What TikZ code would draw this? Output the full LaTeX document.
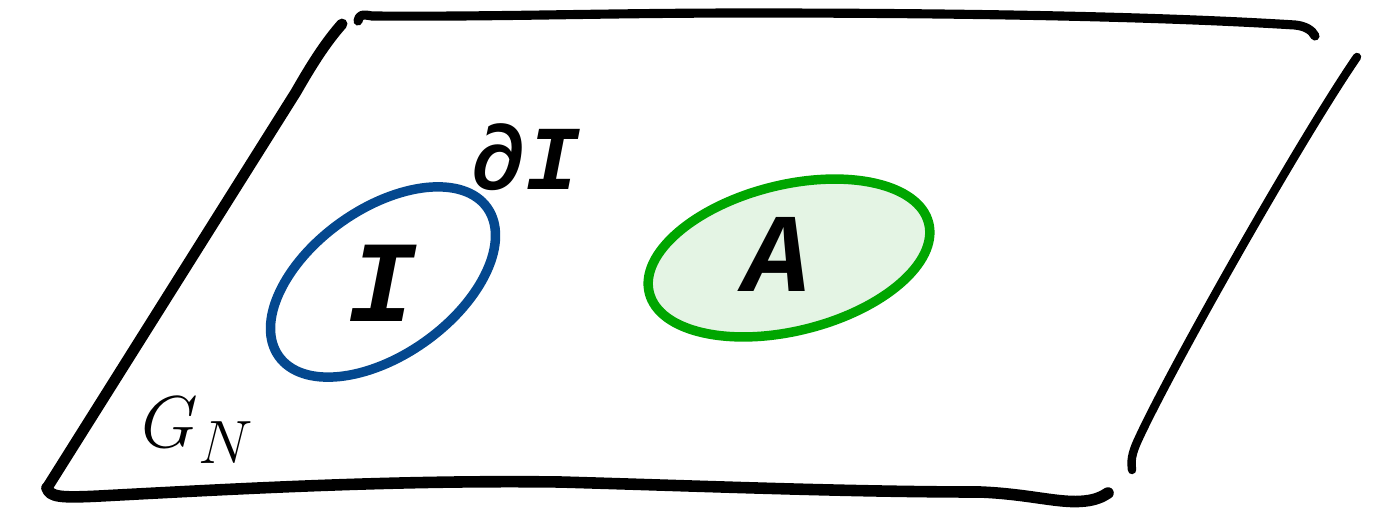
\documentclass[tikz,border=0pt]{standalone}
\usepackage{fontspec}
\newfontfamily\handfont{Liberation Mono}
\usetikzlibrary{shapes.geometric}
\definecolor{setblue}{RGB}{4,72,143}
\definecolor{setgreen}{RGB}{0,166,0}
\definecolor{setfill}{RGB}{228,244,228}

\begin{document}
\begin{tikzpicture}[x=0.02cm,y=-0.02cm,
  rim/.style={line width=5.2pt, line cap=round, line join=round},
  region/.style={ellipse, draw, line width=5.4pt, inner sep=0pt},
  letter/.style={inner sep=0pt, font=\handfont\bfseries\itshape}]
\useasboundingbox (0,0) rectangle (1383,510);
\draw[rim, line width=6.2pt] (342,24) .. controls (326,42) and (312,64) .. (296,92) -- (47,488);
\draw[rim, line width=6.6pt] (47,488) .. controls (50,497) and (60,498) .. (100,496) .. controls (250,488) and (400,480) .. (560,482) .. controls (700,486) and (850,492) .. (980,492) .. controls (1030,494) and (1060,504) .. (1085,501) .. controls (1095,500) and (1102,497) .. (1108,493);
\draw[rim] (358,21) .. controls (359,15) and (362,14) .. (372,16) .. controls (500,17) and (600,13) .. (750,13) .. controls (950,13) and (1150,16) .. (1295,25) .. controls (1305,26) and (1312,30) .. (1315,36);
\draw[rim, line width=4.8pt] (1357,57) .. controls (1300,140) and (1170,370) .. (1138,440) .. controls (1131,455) and (1131,462) .. (1132,470);
\node[region, draw=setblue, minimum width=5.12cm, minimum height=2.92cm, rotate=35.5] (setI) at (383,282) {};
\node[region, draw=setgreen, fill=setfill, minimum width=5.76cm, minimum height=2.92cm, rotate=14] (setA) at (789,258) {};
\node[letter, font=\handfont\bfseries\itshape\fontsize{66}{66}\selectfont] (labI) at (382,283) {I};
\node[letter, font=\handfont\bfseries\itshape\fontsize{64}{64}\selectfont] (labA) at (777,254) {A};
\node[letter, font=\handfont\bfseries\itshape\fontsize{52}{52}\selectfont] (labdI) at (526,157) {∂I};
\node[anchor=base west, inner sep=0pt, font=\Huge, scale=1.68] (labG) at (141,447) {$G_N$};
\end{tikzpicture}
\end{document}
